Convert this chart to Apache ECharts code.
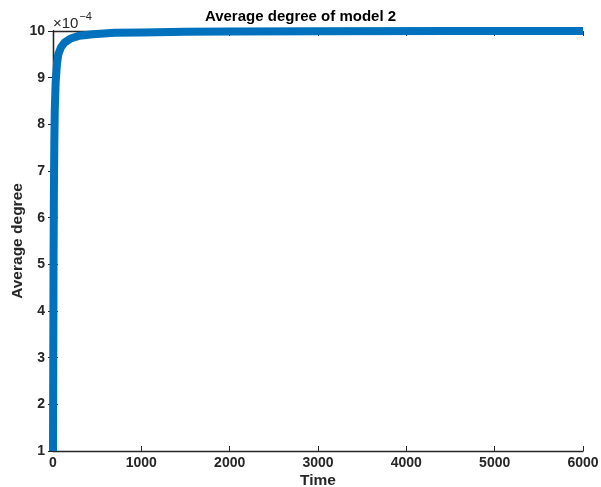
<!DOCTYPE html>
<html>
<head>
<meta charset="utf-8">
<script src="https://cdn.jsdelivr.net/npm/echarts@6/dist/echarts.min.js"></script>
<style>
  html, body { margin: 0; padding: 0; background: #fff; }
  #chart { width: 601px; height: 487px; }
</style>
</head>
<body>
<div id="chart"></div>
<script>
// time steps and average degree (in units of 1e-4)
var times = [0, 3, 6, 10, 15, 20, 30, 45, 60, 90, 130, 200, 300, 450, 700, 1000, 1500, 2000, 3000, 4500, 6000];
var avgDegree = [1, 3, 5, 6.5, 7.6, 8.3, 8.9, 9.3, 9.5, 9.65, 9.75, 9.84, 9.9, 9.93, 9.96, 9.97, 9.985, 9.99, 9.995, 9.998, 10];
var xTicks = [0, 1000, 2000, 3000, 4000, 5000, 6000];
var yTicks = [1, 2, 3, 4, 5, 6, 7, 8, 9, 10];

var chart = echarts.init(document.getElementById('chart'));
var tickFont = { color: '#262626', fontFamily: 'Liberation Sans', fontWeight: 'bold', fontSize: 14 };
var nameFont = { color: '#262626', fontFamily: 'Liberation Sans', fontWeight: 'bold', fontSize: 15.5 };
var axisLine = { show: true, lineStyle: { color: '#262626', width: 1.3 } };
var tick = { show: true, inside: true, length: 5, lineStyle: { color: '#262626' } };

var option = {
  backgroundColor: '#fff',
  animation: false,
  title: {
    text: 'Average degree of model 2',
    left: 'center',
    top: 4,
    textStyle: { color: '#000', fontFamily: 'Liberation Sans', fontWeight: 'bold', fontSize: 15 }
  },
  grid: { left: 53, right: 18, top: 31, bottom: 36, outerBoundsMode: 'none', containLabel: false },
  xAxis: [{
    type: 'value', min: 0, max: 6000, interval: 1000,
    name: 'Time', nameLocation: 'middle', nameGap: 22, nameMoveOverlap: false,
    nameTextStyle: nameFont,
    axisLine: axisLine,
    axisTick: tick,
    axisLabel: Object.assign({ margin: 5, formatter: function (v) { return xTicks.indexOf(v) >= 0 ? String(v) : ''; } }, tickFont),
    splitLine: { show: false }
  }, {
    type: 'value', min: 0, max: 6000, interval: 1000, position: 'top',
    axisLine: axisLine, axisTick: tick,
    axisLabel: { show: false }, splitLine: { show: false }
  }],
  yAxis: [{
    type: 'value', min: 1, max: 10, interval: 1,
    name: 'Average degree', nameLocation: 'middle', nameGap: 27, nameRotate: 90, nameMoveOverlap: false,
    nameTextStyle: nameFont,
    axisLine: axisLine,
    axisTick: tick,
    axisLabel: Object.assign({ margin: 8, formatter: function (v) { return yTicks.indexOf(v) >= 0 ? String(v) : ''; } }, tickFont),
    splitLine: { show: false }
  }, {
    type: 'value', min: 1, max: 10, interval: 1, position: 'right',
    axisLine: axisLine, axisTick: tick,
    axisLabel: { show: false }, splitLine: { show: false }
  }],
  graphic: [{
    type: 'text', left: 53, top: 11,
    style: {
      text: '{a|×10}{b|−4}',
      rich: {
        a: { fontFamily: 'Liberation Sans', fontSize: 15, fill: '#262626', verticalAlign: 'bottom' },
        b: { fontFamily: 'Liberation Sans', fontSize: 11, fill: '#262626', padding: [0, 0, 9, 1] }
      }
    }
  }],
  series: [{
    type: 'line',
    data: times.map(function (t, i) { return [t, avgDegree[i]]; }),
    showSymbol: false,
    clip: false,
    lineStyle: { color: '#0072BD', width: 8, join: 'round' }
  }]
};
chart.setOption(option);
</script>
</body>
</html>
